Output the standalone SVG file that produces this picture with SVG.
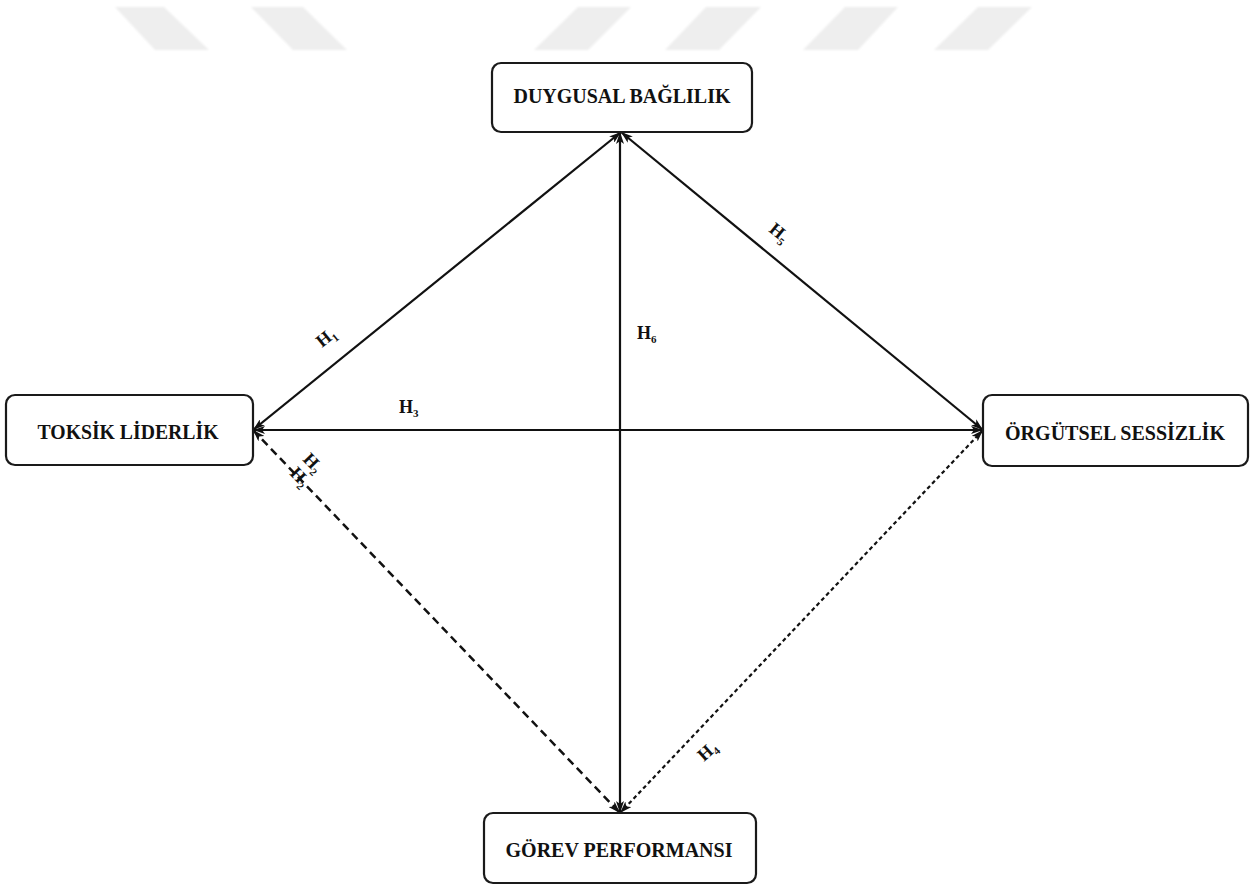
<svg xmlns="http://www.w3.org/2000/svg" width="1254" height="886" viewBox="0 0 1254 886">
  <style>
    .box { fill: #ffffff; stroke: #1a1a1a; stroke-width: 2.2; }
    .node-text { font-family: "Liberation Serif", "DejaVu Serif", serif; font-weight: bold; font-size: 20px; fill: #111111; text-anchor: middle; }
    .lbl { font-family: "Liberation Serif", "DejaVu Serif", serif; font-weight: bold; font-size: 18px; fill: #111111; }
    .sub { font-size: 11px; }
    .solid { fill: none; stroke: #111111; stroke-width: 2.2; }
    .dash-wide { fill: none; stroke: #111111; stroke-width: 2.5; stroke-dasharray: 8 5; }
    .dash-fine { fill: none; stroke: #111111; stroke-width: 2.2; stroke-dasharray: 4 3; }
    .band { fill: #eeeeee; }
  </style>
  <defs>
    <marker id="arrow" viewBox="0 0 12 8" refX="12" refY="4" markerWidth="12" markerHeight="8" markerUnits="userSpaceOnUse" orient="auto-start-reverse">
      <path d="M0,0 L12,4 L0,8 L3,4 z" fill="#111111"/>
    </marker>
    <filter id="soft" x="-10%" y="-20%" width="120%" height="140%">
      <feGaussianBlur stdDeviation="0.8"/>
    </filter>
  </defs>

  <rect width="1254" height="886" fill="#ffffff"/>

  <!-- slanted grey bands along the top edge -->
  <g id="bands" filter="url(#soft)">
    <polygon class="band" points="115,7 164,7 209,50 155,50"/>
    <polygon class="band" points="251,7 303,7 347,50 293,50"/>
    <polygon class="band" points="578,7 631,7 588,50 534,50"/>
    <polygon class="band" points="706,7 761,7 719,50 665,50"/>
    <polygon class="band" points="845,7 898,7 858,50 803,50"/>
    <polygon class="band" points="978,7 1032,7 988,50 934,50"/>
  </g>

  <!-- connectors -->
  <g id="connectors">
    <line class="solid" x1="253" y1="430" x2="621" y2="132" marker-start="url(#arrow)" marker-end="url(#arrow)"/>
    <line class="solid" x1="253" y1="430" x2="983" y2="430" marker-start="url(#arrow)" marker-end="url(#arrow)"/>
    <line class="solid" x1="983" y1="430" x2="621" y2="132" marker-start="url(#arrow)" marker-end="url(#arrow)"/>
    <line class="solid" x1="620" y1="132" x2="620" y2="813" marker-start="url(#arrow)" marker-end="url(#arrow)"/>
    <line class="dash-wide" x1="253" y1="430" x2="620" y2="813" marker-start="url(#arrow)" marker-end="url(#arrow)"/>
    <line class="dash-fine" x1="983" y1="430" x2="620" y2="813" marker-start="url(#arrow)" marker-end="url(#arrow)"/>
  </g>

  <!-- hypothesis labels -->
  <g id="labels">
    <text class="lbl" transform="translate(322,348) rotate(-39)">H<tspan class="sub" dy="4">1</tspan></text>
    <text class="lbl" x="399" y="413">H<tspan class="sub" dy="4">3</tspan></text>
    <text class="lbl" x="637" y="339">H<tspan class="sub" dy="4">6</tspan></text>
    <text class="lbl" transform="translate(768,231) rotate(39)">H<tspan class="sub" dy="4">5</tspan></text>
    <text class="lbl" transform="translate(302,460) rotate(46)">H<tspan class="sub" dy="4">2</tspan></text>
    <text class="lbl" transform="translate(289,474) rotate(46)">H<tspan class="sub" dy="4">2</tspan></text>
    <text class="lbl" transform="translate(704,762) rotate(-42)">H<tspan class="sub" dy="4">4</tspan></text>
  </g>

  <!-- nodes -->
  <g id="node-duygusal">
    <rect class="box" x="492" y="63" width="260" height="69" rx="9"/>
    <text class="node-text" x="622" y="103" textLength="217" lengthAdjust="spacingAndGlyphs">DUYGUSAL BAĞLILIK</text>
  </g>
  <g id="node-toksik">
    <rect class="box" x="6" y="395" width="247" height="70" rx="9"/>
    <text class="node-text" x="128" y="439" textLength="181" lengthAdjust="spacingAndGlyphs">TOKSİK LİDERLİK</text>
  </g>
  <g id="node-orgutsel">
    <rect class="box" x="983" y="395" width="265" height="71" rx="9"/>
    <text class="node-text" x="1115" y="440" textLength="220" lengthAdjust="spacingAndGlyphs">ÖRGÜTSEL SESSİZLİK</text>
  </g>
  <g id="node-gorev">
    <rect class="box" x="484" y="813" width="272" height="70" rx="9"/>
    <text class="node-text" x="619" y="857" textLength="227" lengthAdjust="spacingAndGlyphs">GÖREV PERFORMANSI</text>
  </g>
</svg>
